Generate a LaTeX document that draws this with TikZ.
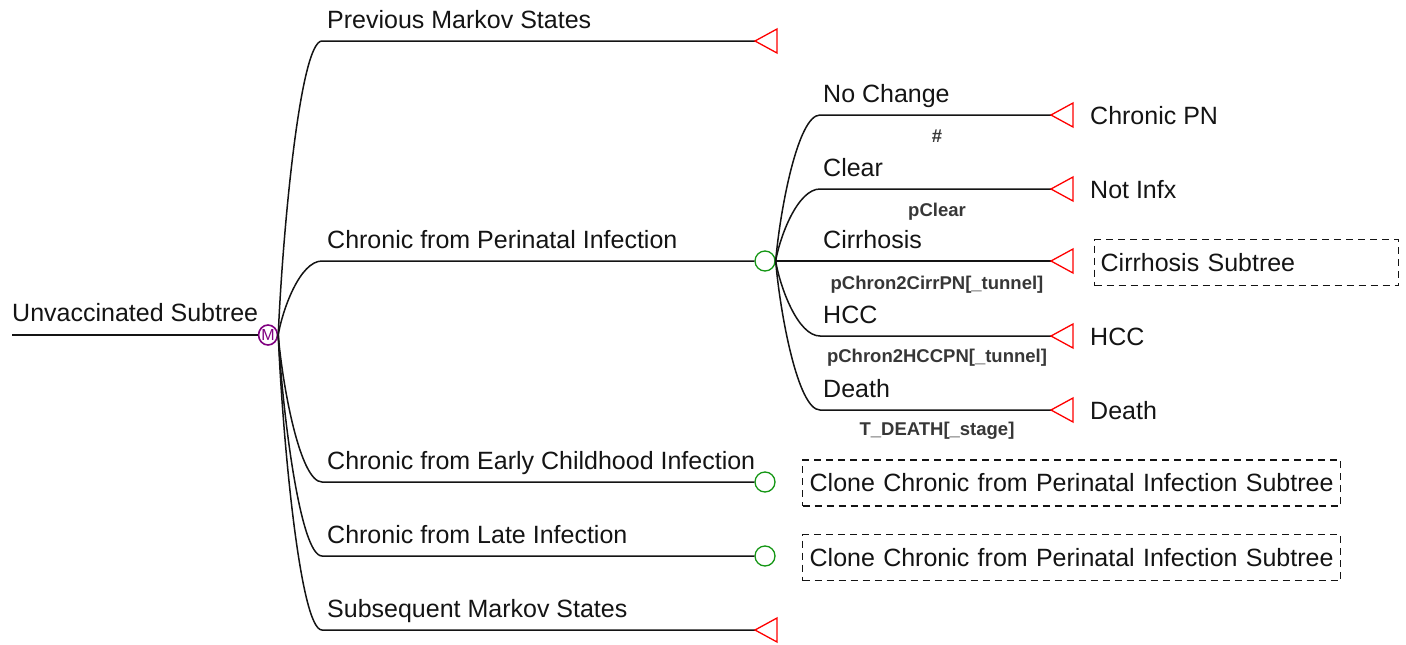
\documentclass[tikz,border=0pt]{standalone}
\usepackage{fontspec}
\setmainfont{Liberation Sans}
\usetikzlibrary{calc,shapes.geometric}
\definecolor{mpurple}{RGB}{128,0,128}
\definecolor{cgreen}{RGB}{20,150,20}
\definecolor{tred}{RGB}{255,0,0}
\definecolor{ink}{RGB}{20,20,20}
% terminal node: open triangle whose apex sits on the named coordinate
\newcommand\termtri[1]{\draw[tri] (#1) -- ++(22,-12) -- ++(0,24) -- cycle;}
\begin{document}
\begin{tikzpicture}[x=1pt,y=-1pt,
  edge/.style={line width=1.5pt, ink},
  curvy/.style={to path={let \p1=(\tikztostart), \p2=(\tikztotarget) in
      .. controls ({\x1+0.1*(\x2-\x1)},{\y1+0.35*(\y2-\y1)})
             and ({\x1+0.5*(\x2-\x1)},\y2) .. (\tikztotarget) \tikztonodes}},
  lbl/.style={font=\fontsize{25}{30}\selectfont, inner sep=0pt, text=ink},
  prob/.style={font=\bfseries\fontsize{18.5}{22}\selectfont, inner sep=0pt, anchor=base, text=ink!85},
  chance/.style={circle, draw=cgreen, line width=1.3pt, minimum size=20pt, inner sep=0pt},
  markov/.style={ellipse, draw=mpurple, line width=1.6pt, minimum width=18pt,
      minimum height=20pt, inner sep=0pt, text=mpurple, font=\fontsize{16}{16}\selectfont},
  tri/.style={draw=tred, line width=1.3pt, line join=miter},
  subbox/.style={draw=ink, dash pattern=on 7pt off 5pt, line width=1.3pt, align=left,
      minimum height=46pt, inner ysep=0pt, font=\fontsize{25}{30}\selectfont, text=ink}
]
\useasboundingbox (0,0) rectangle (1406,645);

% root and Markov node
\coordinate (r0) at (12,335);
\node[markov] (M) at (268,335) {M};
\draw[edge] (r0) -- (M.west);
\node[lbl, anchor=base west] (tRoot) at (12,321) {Unvaccinated Subtree};

% main branch coordinates
\coordinate (b1) at (322,41);  \coordinate (e1) at (755,41);
\coordinate (b2) at (322,261); \node[chance] (c2) at (765,261) {};
\coordinate (b3) at (322,482); \node[chance] (c3) at (765,482) {};
\coordinate (b4) at (322,556); \node[chance] (c4) at (765,556) {};
\coordinate (b5) at (322,630); \coordinate (e5) at (755,630);

\draw[edge] (M.east) to[curvy] (b1) -- (e1);
\draw[edge] (M.east) to[curvy] (b2) -- (c2.west);
\draw[edge] (M.east) to[curvy] (b3) -- (c3.west);
\draw[edge] (M.east) to[curvy] (b4) -- (c4.west);
\draw[edge] (M.east) to[curvy] (b5) -- (e5);
\termtri{e1}
\termtri{e5}

\node[lbl, anchor=base west] (l1) at (327,28)  {Previous Markov States};
\node[lbl, anchor=base west] (l2) at (327,248) {Chronic from Perinatal Infection};
\node[lbl, anchor=base west] (l3) at (327,469) {Chronic from Early Childhood Infection};
\node[lbl, anchor=base west] (l4) at (327,543) {Chronic from Late Infection};
\node[lbl, anchor=base west] (l5) at (327,617) {Subsequent Markov States};

% sub-branches of the perinatal chance node
\coordinate (s1) at (820,115); \coordinate (t1) at (1051,115);
\coordinate (s2) at (820,189); \coordinate (t2) at (1051,189);
\coordinate (t3) at (1051,261);
\coordinate (s4) at (820,336); \coordinate (t4) at (1051,336);
\coordinate (s5) at (820,410); \coordinate (t5) at (1051,410);

\draw[edge] (c2.east) to[curvy] (s1) -- (t1);
\draw[edge] (c2.east) to[curvy] (s2) -- (t2);
\draw[edge] (c2.east) -- (t3);
\draw[edge] (c2.east) to[curvy] (s4) -- (t4);
\draw[edge] (c2.east) to[curvy] (s5) -- (t5);
\termtri{t1}
\termtri{t2}
\termtri{t3}
\termtri{t4}
\termtri{t5}

\node[lbl, anchor=base west] (n1) at (823,102) {No Change};
\node[lbl, anchor=base west] (n2) at (823,176) {Clear};
\node[lbl, anchor=base west] (n3) at (823,248) {Cirrhosis};
\node[lbl, anchor=base west] (n4) at (823,323) {HCC};
\node[lbl, anchor=base west] (n5) at (823,397) {Death};

\node[prob] (p1) at (937,142) {\#};
\node[prob] (p2) at (937,216) {pClear};
\node[prob] (p3) at (937,289) {pChron2CirrPN[\_tunnel]};
\node[prob] (p4) at (937,362) {pChron2HCCPN[\_tunnel]};
\node[prob] (p5) at (937,435) {T\_DEATH[\_stage]};

\node[lbl, anchor=base west] (o1) at (1090,124) {Chronic PN};
\node[lbl, anchor=base west] (o2) at (1090,198) {Not Infx};
\node[lbl, anchor=base west] (o4) at (1090,345) {HCC};
\node[lbl, anchor=base west] (o5) at (1090,419) {Death};

% subtree reference boxes
\node[subbox, text width=292pt, inner xsep=6pt, anchor=west] (cirr) at (1094,262.5) {Cirrhosis Subtree};
\node[subbox, text width=524pt, inner xsep=7pt, anchor=west] (clone1) at (802,483) {Clone Chronic from Perinatal Infection Subtree};
\node[subbox, text width=524pt, inner xsep=7pt, anchor=west] (clone2) at (802,557.5) {Clone Chronic from Perinatal Infection Subtree};
\end{tikzpicture}
\end{document}
